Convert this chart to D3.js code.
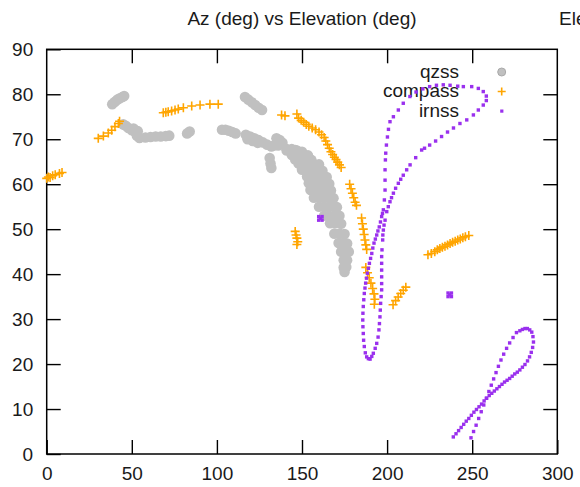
<!DOCTYPE html>
<html><head><meta charset="utf-8">
<script src="https://cdn.jsdelivr.net/npm/d3@7"></script>
<style>
html,body{margin:0;padding:0;background:#fff;overflow:hidden}
svg{display:block}
text{font-family:"Liberation Sans",Arial,Helvetica,sans-serif;fill:#1a1a1a}
</style></head>
<body>
<svg id="chart" width="580" height="487"></svg>
<script>
const title = "Az (deg) vs Elevation (deg)";
const nextTitle = "Elevation";
const xTicks = [0, 50, 100, 150, 200, 250, 300];
const yTicks = [0, 10, 20, 30, 40, 50, 60, 70, 80, 90];
const seriesNames = ["qzss", "compass", "irnss"];
const seriesColors = ["#c0c0c0", "#ffa500", "#9a30ee"];

// qzss: [azimuth, elevation]
const qzss = [
  [38.5,77.8],[40,78.3],[41.5,78.8],[43,79.1],[44.5,79.4],[45.5,79.6],
  [45,73.3],[46.5,73],[48,72.5],[50,72],[52,71.6],[53,70.8],[54.5,70.3],[51,72.4],[53.5,71.8],
  [58,70.4],[61,70.5],[64,70.6],[67,70.6],[70,70.7],[72,70.8],
  [82.5,71.3],[84,71.7],
  [103,72.1],[105,72.1],[107,71.9],[109,71.6],[111,71.3],
  [117,71],[119.5,70.6],[122,70.2],[124.5,69.8],[127,69.3],[129.5,68.8],[132,68.4],
  [118,70],[121,69.6],[124,69.2],
  [116.5,79.4],[118.5,78.8],[120.5,78.2],[122.5,77.6],[124.5,77],[126.5,76.5],
  [135,70.2],[137,69.8],[138.5,69.2],[136,68.6],[133.5,68.6],
  [131,65.8],[131.5,64.6],[132,63.6],
  [141,67.8],[144,67.8],[146,67.6],[148,67.2],
  [141,67.5],[144,67.3],[147,67.5],[150,67.2],
  [144,66.5],[147,66.5],[150,66.5],[153.5,66.4],
  [146,65.5],[149,65.5],[152,65.5],[155.5,65.4],
  [148,64.6],[151,64.6],[154,64.6],[157,64.5],[160,64.4],
  [150,63.2],[153,63.2],[156,63.2],[159,63.1],[162,63],
  [153,61.7],[156,61.7],[159,61.7],[162,61.7],[164.5,61.6],
  [154,60.2],[157,60.2],[160,60.2],[163,60.2],[166,60.1],
  [155,58.7],[158,58.7],[161,58.7],[164,58.7],[167,58.6],
  [157,57],[160,57],[163,57],[166,57],[168.5,56.9],
  [160,55],[163,55],[166,55],[169,55],[170.5,54.9],
  [163,53],[166,53],[169,53],[172,53],
  [166.5,51.3],[169.5,51.3],[173,51.2],
  [169,49],[172,49],[175,48.9],
  [171.5,46.9],[174,46.9],[176.5,46.8],
  [173,45],[175.5,45],[177.5,45],
  [174.5,43.1],[176.5,43.1],
  [174.5,41.5],[176,41.6],
  [175,40.5]
];

// compass: [azimuth, elevation]
const compass = [
  [0,61.3],[1,61.6],[2,61.5],[3.5,61.9],[5,62.1],[7.5,62.4],[9,62.6],
  [30.3,70.2],[33.3,70.7],[36.2,71.4],[38.2,72],[40.1,72.8],[42.1,73.5],[42.8,74],
  [68.5,75.9],[70,76],[71.4,76.1],[73.4,76.3],[75.4,76.5],[77.3,76.7],[80.3,77],[85.2,77.4],[90.1,77.6],[95.9,77.8],[100.8,77.8],
  [138,75.4],[140,75.2],
  [147,75.6],[148,74.7],[149.5,74.2],[151,73.8],[152.5,73.3],[154,72.9],[156,72.5],[158,72.1],[160,71.6],[161.5,71],
  [163,70.4],[164,69.6],[165,68.8],[166,68],[167,67.2],[168,66.6],[169,66],[170,65.5],[171,64.9],[172,64.3],[173,63.7],
  [146,49.5],[146.5,48.7],[147,48],[147.5,47.2],[147,46.6],
  [178,60],[178.8,59],[179.6,58],[180.4,57],[181.2,56],[182,55.3],
  [185,52.5],[185.5,51.2],[186,50],[186.5,48.8],[187,47.6],[187.5,46.5],[188,45.5],
  [187.5,41.5],[188.5,40.3],[189.5,39.2],[190.5,38],[191.5,36.8],[192.3,35.6],[192.8,34.4],[192.5,33.3],
  [203.5,33.2],[205,34.1],[206.5,34.9],[208,35.7],[209.5,36.4],[211,37.1],
  [224,44.3],[226,44.6],[228,45],[229.5,45.4],[231,45.7],[232.5,46],[234,46.2],[235.5,46.5],
  [237,46.8],[238.5,47.1],[240,47.3],[241.5,47.6],[243,47.8],[244.5,48.1],[246,48.3],[248,48.6]
];

// irnss: [azimuth, elevation]
const irnss = [
  [159.8,52],[161.8,52],[159.8,52.8],[161.8,52.8],[160.8,52.4],
  [235.8,35],[237.8,35],[235.8,35.8],[237.8,35.8],[236.8,35.4],
  [201.7,73.9],[203.7,75],[206.6,76.5],[209.5,78],[213.4,79.5],[217,80.5],[221,81.2],[225,81.7],
  [229,82],[233,82.1],[237,82],[241.5,81.8],[244.8,81.7],[249.7,81.7],[253.6,81.3],[256.5,80.6],
  [258.3,79.6],[258.3,78.6],[256.5,77.6],[253.6,76.5],[250.7,75.4],[246.8,74.3],[242.8,73.5],
  [239,72.5],[235.5,71.6],[232,70.6],[228.5,69.6],[225,68.7],[222,68],
  [220.3,67.6],[216.8,65.9],[213.5,64.3],[211.5,63.2],[209.5,62],[208,61.1],[206.6,60.2],[205,59.1],
  [203.7,58],[202.6,57],[201.7,56.1],[200.7,55],[199.8,53.9],[198.8,52],[198.2,50.9],[197.8,49.8],
  [197.5,48.7],[197.4,47.6],[197,45.4],[196.8,43.9],[196.8,42.4],[196.8,40.9],[196.8,39.4],[196.8,37.9],
  [196.8,36.5],[196.5,35],[196.2,33.5],[196,32],[195.8,30.5],[195.5,29],[195.2,27.6],[194.7,26],
  [193.9,24.6],[193,23.5],[191.9,22.4],[191,21.7],[190,21.1],[189,21.2],[188,21.6],[187.2,22.5],
  [186.6,23.9],[186.2,25.3],[186,26.8],[185.8,28.3],[185.7,29.8],[185.8,31.3],[186,32.8],[186.3,34.3],
  [186.6,35.7],[187,36.9],[187.4,38],[187.9,39.1],[188.4,40.2],[189,41.3],[189.6,42.4],[190.3,43.5],
  [191,44.6],[191.6,45.8],[192.3,46.9],[193.1,47.8],[193.9,48.7],[194.6,49.6],[195.4,50.5],[196.1,51.6],
  [196.8,52.8],[197.3,53.5],[197.8,54.3],[198.4,56.5],[198.8,58.7],[198.8,60.9],[198.8,63.2],[199,65.4],
  [199.2,66.9],[199.6,68.7],[200.2,70.5],[200.8,72.2],
  [238.9,3.8],[240.5,4.5],[242,5.2],[243.5,5.9],[245,6.6],[246.5,7.3],[248,7.9],[249.5,8.6],
  [251,9.3],[252.5,9.9],[254,10.5],[255.5,11.1],[257,11.8],[258.5,12.4],[260,13],[261.5,13.5],
  [263,14],[264.5,14.5],[266,15],[267.5,15.5],[269,16],[270.5,16.4],[272,16.8],[273.5,17.3],
  [275,17.8],[276.5,18.2],[278,18.7],[279.5,19.3],[281,19.9],[282.5,20.7],[283.7,21.6],[284.7,22.6],
  [285.5,23.7],[286,24.9],[285.7,26.1],[285,27.1],[283.8,27.6],[282.4,27.9],[281,27.9],[279.5,27.7],
  [278,27.4],
  [276,27],[274,25.9],[272,24.7],[270.2,23.5],[268.5,22.2],[266.9,20.9],[265.4,19.5],[264,18.1],
  [262.6,16.7],[261.2,15.3],[259.8,13.9],[258.3,12.4],[256.8,10.9],[255.3,9.4],[253.8,7.9],[252.3,6.4],
  [250.8,5],[249.3,3.6]
];

const svg = d3.select("#chart");
const L = 46.7, R = 557.3, T = 49.3, B = 454;
const x = d3.scaleLinear().domain([0, 300]).range([L, R]);
const y = d3.scaleLinear().domain([0, 90]).range([B, T]);
const FS = 19, TICK = 14;

// title(s)
svg.append("text").attr("x", (L + R) / 2).attr("y", 25).attr("text-anchor", "middle")
  .style("font-size", FS + "px").text(title);
svg.append("text").attr("x", 559).attr("y", 25).style("font-size", FS + "px").text(nextTitle);

// axes
function styleAxis(g, labels) {
  g.select(".domain").remove();
  g.selectAll(".tick line").attr("stroke", "#000").attr("stroke-width", 1.4);
  if (labels) g.selectAll(".tick text").style("font-size", FS + "px")
      .style("font-family", '"Liberation Sans",Arial,sans-serif').attr("fill", "#1a1a1a");
  else g.selectAll(".tick text").remove();
}
svg.append("g").attr("transform", `translate(0,${B})`)
  .call(d3.axisBottom(x).tickValues(xTicks).tickSizeInner(-TICK).tickSizeOuter(0).tickPadding(13).tickFormat(d3.format("d")))
  .call(g => styleAxis(g, true));
svg.append("g").attr("transform", `translate(0,${T})`)
  .call(d3.axisTop(x).tickValues(xTicks.slice(1, -1)).tickSizeInner(-TICK).tickSizeOuter(0))
  .call(g => styleAxis(g, false));
svg.append("g").attr("transform", `translate(${L},0)`)
  .call(d3.axisLeft(y).tickValues(yTicks).tickSizeInner(-TICK).tickSizeOuter(0).tickPadding(13.5).tickFormat(d3.format("d")))
  .call(g => styleAxis(g, true));
svg.append("g").attr("transform", `translate(${R},0)`)
  .call(d3.axisRight(y).tickValues(yTicks.slice(1, -1)).tickSizeInner(-TICK).tickSizeOuter(0))
  .call(g => styleAxis(g, false));

// frame
svg.append("rect").attr("x", L).attr("y", T).attr("width", R - L).attr("height", B - T)
  .attr("fill", "none").attr("stroke", "#000").attr("stroke-width", 1.5);

// legend
const legY = [77.5, 97, 116.5];
const legend = svg.append("g");
seriesNames.forEach((n, i) => {
  legend.append("text").attr("x", 459).attr("y", legY[i]).attr("text-anchor", "end")
    .style("font-size", FS + "px").text(n);
});
legend.append("circle").attr("cx", 501.7).attr("cy", legY[0] - 5.5).attr("r", 4)
  .attr("fill", seriesColors[0]).attr("stroke", "#aaa").attr("stroke-width", 1);
legend.append("path").attr("d", `M${497.7},${legY[1] - 5.5}h8M${501.7},${legY[1] - 9.5}v8`)
  .attr("stroke", seriesColors[1]).attr("stroke-width", 1.6);
legend.append("rect").attr("x", 500.2).attr("y", legY[2] - 7).attr("width", 3.2).attr("height", 3.2)
  .attr("fill", seriesColors[2]);

// data
const plot = svg.append("g");
plot.selectAll("circle.q").data(qzss).join("circle").attr("class", "q")
  .attr("cx", d => x(d[0])).attr("cy", d => y(d[1])).attr("r", 5.3).attr("fill", seriesColors[0]);
plot.selectAll("path.c").data(compass).join("path").attr("class", "c")
  .attr("d", d => { const cx = x(d[0]), cy = y(d[1]); return `M${cx - 4.5},${cy}h9M${cx},${cy - 4.5}v9`; })
  .attr("stroke", seriesColors[1]).attr("stroke-width", 1.6).attr("fill", "none");
plot.selectAll("rect.i").data(irnss).join("rect").attr("class", "i")
  .attr("x", d => x(d[0]) - 1.7).attr("y", d => y(d[1]) - 1.7).attr("width", 3.4).attr("height", 3.4)
  .attr("fill", seriesColors[2]);
</script>
</body></html>
